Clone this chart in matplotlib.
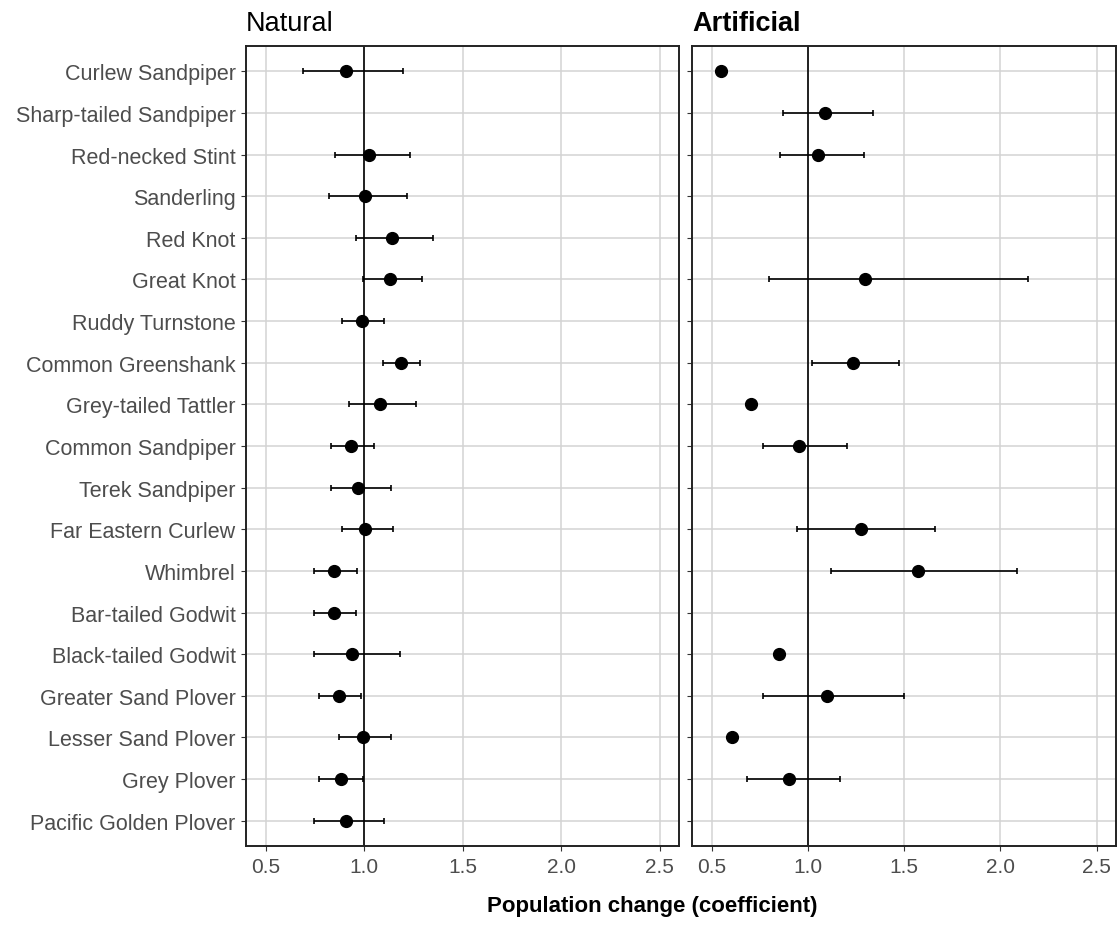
import matplotlib.pyplot as plt
import numpy as np

plt.rcParams["font.family"] = ["Liberation Sans", "DejaVu Sans"]

# 物种（自上而下）
species = [
    "Curlew Sandpiper", "Sharp-tailed Sandpiper", "Red-necked Stint", "Sanderling",
    "Red Knot", "Great Knot", "Ruddy Turnstone", "Common Greenshank",
    "Grey-tailed Tattler", "Common Sandpiper", "Terek Sandpiper", "Far Eastern Curlew",
    "Whimbrel", "Bar-tailed Godwit", "Black-tailed Godwit", "Greater Sand Plover",
    "Lesser Sand Plover", "Grey Plover", "Pacific Golden Plover",
]

nan = np.nan
# Natural 栖息地：系数、下限、上限
nat_est = [0.908, nan, 1.023, 1.006, 1.141, 1.133, 0.989, 1.185, 1.080, 0.935,
           0.971, 1.006, 0.848, 0.848, 0.937, 0.874, 0.996, 0.883, 0.908]
nat_lo = [0.692, nan, 0.854, 0.824, 0.959, 0.996, 0.888, 1.094, 0.923, 0.831,
          0.831, 0.888, 0.743, 0.743, 0.743, 0.773, 0.871, 0.773, 0.743]
nat_hi = [1.197, nan, 1.234, 1.217, 1.350, 1.295, 1.099, 1.286, 1.261, 1.048,
          1.136, 1.144, 0.966, 0.959, 1.180, 0.984, 1.136, 0.996, 1.099]

# Artificial 栖息地
art_est = [0.549, 1.090, 1.055, nan, nan, 1.298, nan, 1.234, 0.703, 0.957,
           nan, 1.278, 1.571, nan, 0.848, 1.102, 0.604, 0.903, nan]
art_lo = [nan, 0.872, 0.855, nan, nan, 0.799, nan, 1.024, nan, 0.765,
          nan, 0.946, 1.120, nan, nan, 0.765, nan, 0.682, nan]
art_hi = [nan, 1.339, 1.292, nan, nan, 2.143, nan, 1.474, nan, 1.206,
          nan, 1.661, 2.088, nan, nan, 1.500, nan, 1.168, nan]

x_ticks = [0.5, 1.0, 1.5, 2.0, 2.5]


def draw_panel(ax, est, lo, hi, title, weight):
    n = len(species)
    y = np.arange(n, 0, -1)
    est = np.array(est)
    lo = np.array(lo)
    hi = np.array(hi)

    ax.set_xlim(0.4, 2.6)
    ax.set_ylim(0.4, n + 0.6)
    ax.set_xticks(x_ticks)
    ax.set_yticks(y)
    ax.grid(True, color="#d3d3d3", linewidth=1.1)
    ax.set_axisbelow(True)
    ax.axvline(1.0, color="black", linewidth=1.2, zorder=2)

    has_err = ~np.isnan(lo)
    ax.errorbar(est[has_err], y[has_err],
                xerr=[est[has_err] - lo[has_err], hi[has_err] - est[has_err]],
                fmt="none", ecolor="black", elinewidth=1.2, capsize=2.5,
                capthick=1.2, zorder=3)
    ok = ~np.isnan(est)
    ax.plot(est[ok], y[ok], "o", color="black", markersize=8.5, zorder=4)

    for s in ax.spines.values():
        s.set_linewidth(1.4)
        s.set_color("#222222")
    ax.tick_params(axis="both", length=3.5, color="#333333", labelcolor="#4d4d4d",
                   labelsize=15)
    ax.tick_params(axis="x", pad=5)
    ax.tick_params(axis="y", pad=4, labelsize=15.5)
    ax.set_title(title, loc="left", fontsize=19.5, fontweight=weight, pad=12)


fig = plt.figure(figsize=(11.18, 9.29), dpi=100)
ax1 = fig.add_axes([0.220, 0.0886, 0.3876, 0.8605])
ax2 = fig.add_axes([0.6192, 0.0886, 0.3788, 0.8605])

draw_panel(ax1, nat_est, nat_lo, nat_hi, "Natural", "normal")
ax1.set_yticklabels(species)
draw_panel(ax2, art_est, art_lo, art_hi, "Artificial", "bold")
ax2.set_yticklabels([])

fig.text(0.583, 0.024, "Population change (coefficient)", ha="center",
         va="center", fontsize=16, fontweight="bold")

fig.savefig("out.png", dpi=100)
